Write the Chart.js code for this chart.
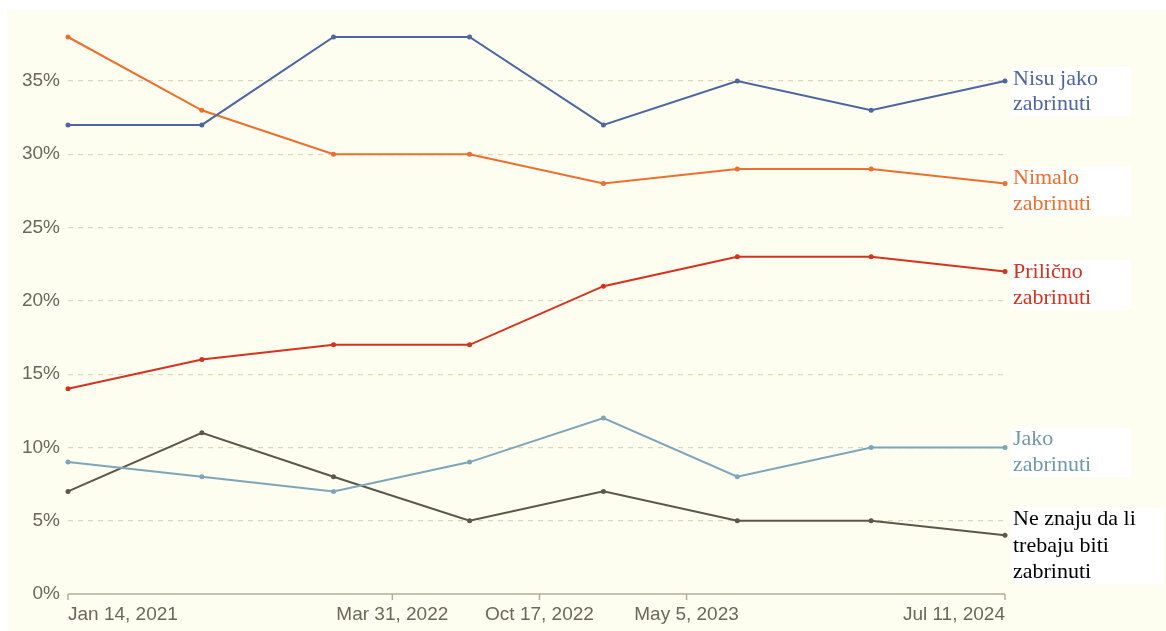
<!DOCTYPE html>
<html>
<head>
<meta charset="utf-8">
<script src="https://cdn.jsdelivr.net/npm/chart.js@4/dist/chart.umd.min.js"></script>
<style>
html,body{margin:0;padding:0;background:#ffffff;}
#wrap{width:1166px;height:631px;}
</style>
</head>
<body>
<div id="wrap"><canvas id="c" width="1166" height="631"></canvas></div>
<script>
// ---- data ----
const surveyDates = ['2021-01-14','2021-07-15','2022-01-10','2022-07-14','2023-01-12','2023-07-13','2024-01-11','2024-07-11'];
const nisuJako   = [32, 32, 38, 38, 32, 35, 33, 35];
const nimalo     = [38, 33, 30, 30, 28, 29, 29, 28];
const prilicno   = [14, 16, 17, 17, 21, 23, 23, 22];
const jako       = [9, 8, 7, 9, 12, 8, 10, 10];
const neZnaju    = [7, 11, 8, 5, 7, 5, 5, 4];
const tickDates  = ['2021-01-14','2022-03-31','2022-10-17','2023-05-05','2024-07-11'];
const tickLabels = ['Jan 14, 2021','Mar 31, 2022','Oct 17, 2022','May 5, 2023','Jul 11, 2024'];
const yTicks     = [0, 5, 10, 15, 20, 25, 30, 35];
const seriesNames = [['Nisu jako','zabrinuti'],['Nimalo','zabrinuti'],['Prilično','zabrinuti'],['Jako','zabrinuti'],['Ne znaju da li','trebaju biti','zabrinuti']];

// ---- helpers ----
const DAY = 86400000;
const t0 = Date.parse(surveyDates[0]);
const toDay = d => Math.round((Date.parse(d) - t0) / DAY);
const xs = surveyDates.map(toDay);
const tickX = tickDates.map(toDay);
const pts = arr => arr.map((v, i) => ({x: xs[i], y: v}));

const colors = ['#4e66a0', '#ec6f2e', '#d5321f', '#7ea5b8', '#5d5748'];
const labelColors = ['#4e66a0', '#ec6f2e', '#d5321f', '#6f98ad', '#000000'];
const labelDy = [-2, -5, 1, -8, -16]; // first-line offset relative to last point

const values = [nisuJako, nimalo, prilicno, jako, neZnaju];
const datasets = values.map((arr, i) => ({
  label: seriesNames[i].join(' '),
  data: pts(arr),
  borderColor: colors[i],
  backgroundColor: colors[i],
  borderWidth: 2,
  pointRadius: 2.5,
  pointHoverRadius: 2.5,
  pointBorderWidth: 0,
  tension: 0,
  clip: false
}));

const bgPlugin = {
  id: 'bg',
  beforeDraw(chart) {
    const ctx = chart.ctx;
    ctx.save();
    ctx.fillStyle = '#ffffff';
    ctx.fillRect(0, 0, chart.width, chart.height);
    ctx.fillStyle = '#fdfdf0';
    ctx.fillRect(7, 10, chart.width - 7, chart.height - 10);
    ctx.restore();
  }
};

const axisPlugin = {
  id: 'axisDraw',
  afterDatasetsDraw(chart) {
    const ctx = chart.ctx;
    const xS = chart.scales.x, yS = chart.scales.y;
    const y0 = yS.getPixelForValue(0);
    ctx.save();
    ctx.strokeStyle = '#b3ae9b';
    ctx.lineWidth = 1.5;
    ctx.beginPath();
    ctx.moveTo(xS.left, y0);
    ctx.lineTo(xS.right, y0);
    tickX.forEach(v => {
      const px = xS.getPixelForValue(v);
      ctx.moveTo(px, y0);
      ctx.lineTo(px, y0 + 6);
    });
    ctx.stroke();
    ctx.restore();
  }
};

const labelPlugin = {
  id: 'endLabels',
  afterDraw(chart) {
    const ctx = chart.ctx;
    const xS = chart.scales.x, yS = chart.scales.y;
    ctx.save();
    ctx.font = '22px "Liberation Serif", "Times New Roman", serif';
    ctx.textBaseline = 'middle';
    ctx.textAlign = 'left';
    values.forEach((arr, i) => {
      const last = arr.length - 1;
      const px = xS.getPixelForValue(xs[last]) + 8;
      const py = yS.getPixelForValue(arr[last]) + labelDy[i];
      const lines = seriesNames[i];
      const lh = i === 4 ? 26.5 : 25.5;
      let w = 0;
      lines.forEach(l => { w = Math.max(w, ctx.measureText(l).width); });
      ctx.fillStyle = '#ffffff';
      ctx.fillRect(px - 2, py - 12, Math.max(w + 30, 120), lh * (lines.length - 1) + 24);
      ctx.fillStyle = labelColors[i];
      lines.forEach((l, k) => ctx.fillText(l, px, py + k * lh));
    });
    ctx.restore();
  }
};

new Chart(document.getElementById('c'), {
  type: 'line',
  data: { datasets },
  options: {
    responsive: false,
    animation: false,
    events: [],
    layout: { padding: { left: 0, right: 161, top: 37, bottom: 0 } },
    plugins: { legend: { display: false }, tooltip: { enabled: false } },
    scales: {
      x: {
        type: 'linear',
        min: xs[0],
        max: xs[xs.length - 1],
        afterBuildTicks(scale) { scale.ticks = tickX.map(v => ({value: v})); },
        afterFit(scale) { scale.height = 37; },
        grid: { display: false, drawTicks: false },
        border: { display: false },
        ticks: {
          autoSkip: false,
          maxRotation: 0,
          padding: 9,
          align: 'inner',
          color: '#6b6859',
          font: { family: '"Liberation Sans", Arial, sans-serif', size: 19 },
          callback: function(v) { const k = tickX.indexOf(v); return k >= 0 ? tickLabels[k] : ''; }
        }
      },
      y: {
        min: 0,
        max: 38,
        afterBuildTicks(scale) { scale.ticks = yTicks.map(v => ({value: v})); },
        afterFit(scale) { scale.width = 68; },
        grid: {
          color: ctx => ctx.tick && ctx.tick.value === 0 ? 'rgba(0,0,0,0)' : '#dcd8b8',
          lineWidth: 1.2,
          drawTicks: false
        },
        border: { display: false, dash: [5, 5] },
        ticks: {
          padding: 8,
          color: '#6b6859',
          font: { family: '"Liberation Sans", Arial, sans-serif', size: 19 },
          callback: v => v + '%'
        }
      }
    }
  },
  plugins: [bgPlugin, axisPlugin, labelPlugin]
});
</script>
</body>
</html>
